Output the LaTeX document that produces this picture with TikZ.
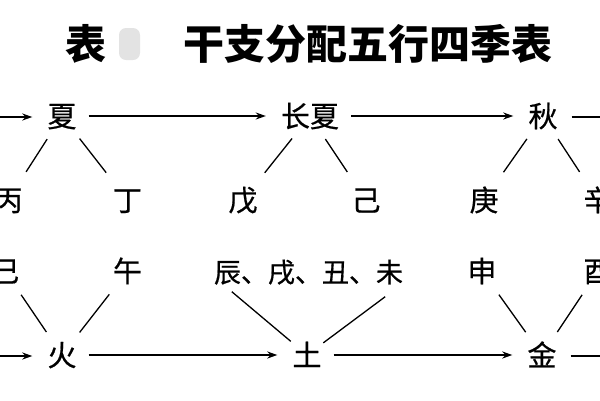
\documentclass[tikz,border=0pt]{standalone}
\usepackage{fontspec}
\newfontfamily\cjk{Noto Sans CJK SC}
\newfontfamily\cjkb[FakeBold=0.6]{Noto Sans CJK SC}
\usetikzlibrary{arrows.meta}
\begin{document}
\begin{tikzpicture}[x=1pt,y=-1pt,
  ch/.style={font=\cjkb\fontsize{29}{29}\selectfont, inner sep=0pt, text height=25.5pt, text depth=3.5pt},
  chs/.style={font=\cjkb\fontsize{27}{27}\selectfont, inner sep=0pt, text height=23.8pt, text depth=3.2pt},
  ttl/.style={font=\cjk\bfseries\fontsize{41}{41}\selectfont, inner sep=0pt},
  arr/.style={-{Stealth[length=10pt,width=7pt]}, line width=1.6pt, shorten <=12pt, shorten >=15pt},
  lnu/.style={line width=1.3pt, shorten <=10pt, shorten >=16pt},
  lnl/.style={line width=1.3pt, shorten <=11pt, shorten >=10pt}
]
\useasboundingbox (0,0) rectangle (600,400);
\clip (0,0) rectangle (600,400);
% title
\node[ttl] (biao) at (86,44) {表};
\node[fill=black!11, rounded corners=7pt, minimum width=21pt, minimum height=32pt, inner sep=0pt] (blob) at (129.5,44) {};
\node[ttl] (title) at (368,44) {干支分配五行四季表};
% row 1
\node[ch] (xia) at (62,116) {夏};
\node[ch] (cx) at (310,116) {长夏};
\node[ch] (qiu) at (543,116) {秋};
\coordinate (L1) at (-2,117);
\coordinate (R1) at (602,117);
% row 2
\node[ch] (bing) at (8,200) {丙};
\node[ch] (ding) at (127.5,200) {丁};
\node[ch] (wu) at (243,200) {戊};
\node[ch] (ji) at (366,200) {己};
\node[ch] (geng) at (484,200) {庚};
\node[ch] (xin) at (598,200) {辛};
% row 3
\node[ch] (si) at (5,271) {巳};
\node[ch] (wuu) at (127.5,271) {午};
\node[chs] (dz) at (308.5,272) {辰、戌、丑、未};
\node[ch] (shen) at (482,271) {申};
\node[ch] (you) at (598,271) {酉};
\coordinate (chen) at ([xshift=18pt,yshift=-6pt]dz.south west);
\coordinate (wei) at ([xshift=-18pt,yshift=-11pt]dz.south east);
% row 4
\node[ch] (huo) at (62,355) {火};
\node[ch] (tu) at (307,355) {土};
\node[ch] (jin) at (542,355) {金};
\coordinate (L4) at (-2,356);
\coordinate (R4) at (602,356);
% arrows
\draw[arr, shorten <=0pt] (L1) -- (xia.west |- L1);
\draw[arr] (xia) -- (cx);
\draw[arr] (cx) -- (qiu);
\draw[line width=1.6pt, shorten <=14pt] (qiu.east |- R1) -- (R1);
\draw[arr, shorten <=0pt] (L4) -- (huo.west |- L4);
\draw[arr] (huo) -- (tu);
\draw[arr] (tu) -- (jin);
\draw[line width=1.6pt, shorten <=14pt] (jin.east |- R4) -- (R4);
% upper branches
\draw[lnu] (xia) -- (bing);
\draw[lnu] (xia) -- (ding);
\draw[lnu] (cx) -- (wu);
\draw[lnu] (cx) -- (ji);
\draw[lnu] (qiu) -- (geng);
\draw[lnu] (qiu) -- (xin);
% lower branches
\draw[lnl] (si) -- (huo);
\draw[lnl] (wuu) -- (huo);
\draw[line width=1.3pt, shorten >=2pt] (chen) -- (tu);
\draw[line width=1.3pt, shorten >=2pt] (wei) -- (tu);
\draw[lnl] (shen) -- (jin);
\draw[lnl] (you) -- (jin);
\end{tikzpicture}
\end{document}
